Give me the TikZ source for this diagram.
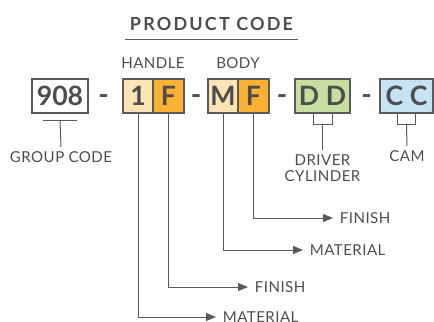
\documentclass[tikz,border=0pt]{standalone}
\usepackage{fontspec}
\setmainfont{Lato}
\usepackage{xcolor}
\usetikzlibrary{arrows.meta,positioning,calc}
\definecolor{ink}{HTML}{4D4D4D}
\definecolor{lineg}{HTML}{5A5A5A}
\definecolor{paleorange}{HTML}{FDE4B6}
\definecolor{deeporange}{HTML}{FBB233}
\definecolor{palegreen}{HTML}{C6DFA1}
\definecolor{paleblue}{HTML}{C6E3F3}
\tikzset{
  codebox/.style={draw=lineg, line width=0.9pt, text=ink, font=\bfseries\fontsize{20}{20}\selectfont, minimum height=25.5pt, inner sep=0pt},
  sep/.style={text=ink, font=\bfseries\fontsize{21}{21}\selectfont, inner sep=0pt},
  lbl/.style={text=ink, font=\fontsize{11.3}{13}\selectfont\addfontfeature{LetterSpace=3}, inner sep=1pt, align=center},
  arrlbl/.style={text=ink, font=\fontsize{11.3}{13}\selectfont\addfontfeature{LetterSpace=3}, inner sep=5pt, anchor=west},
  line/.style={draw=lineg, line width=0.75pt},
  arr/.style={line, -{Triangle[length=7.5pt,width=6pt]}}
}
\begin{document}
\begin{tikzpicture}[x=0.75pt, y=-0.75pt]
  \useasboundingbox (0,0) rectangle (434,321);
  \clip (0,0) rectangle (434,321);
  % title
  \node[text=ink, font=\bfseries\fontsize{13.5}{15}\selectfont\addfontfeature{LetterSpace=12}] (title) at (211.5,24) {PRODUCT CODE};
  \coordinate (ul) at (0,40);
  \draw[line] (title.west |- ul) -- (title.east |- ul);
  % code boxes
  \node[codebox, minimum width=42pt] (group) at (60,96) {908};
  \node[sep] (dash1) at (103.5,100) {-};
  \node[codebox, fill=paleorange, minimum width=22.5pt] (hmat) at (138,96) {1};
  \node[codebox, fill=deeporange, minimum width=23.25pt] (hfin) at (168.5,96) {F};
  \node[sep] (dash2) at (196,100) {-};
  \node[codebox, fill=paleorange, minimum width=22.5pt] (bmat) at (223,96) {M};
  \node[codebox, fill=deeporange, minimum width=23.25pt] (bfin) at (253.5,96) {F};
  \node[sep] (dash3) at (282,100) {-};
  \node[codebox, fill=palegreen, minimum width=41.25pt] (driver) at (322.5,96) {D\kern5pt D};
  \node[sep] (dash4) at (366.5,100) {-};
  \node[codebox, fill=paleblue, minimum width=39.75pt] (cam) at (406.5,96) {C\kern5pt C};
  % group labels
  \node[lbl] (handle) at (153,63) {HANDLE};
  \node[lbl] (body) at (238,63) {BODY};
  \node[lbl, inner sep=3pt] (grouplbl) at (61,157) {GROUP CODE};
  \node[lbl, inner sep=3pt] (driverlbl) at (322.5,168) {DRIVER\\[-1pt]CYLINDER};
  \node[lbl, inner sep=3pt] (camlbl) at (407,156) {CAM};
  % brackets
  \draw[line] ($(group.south)+(-17,7)$) -- ++(34,0);
  \draw[line] ($(group.south)+(0,7)$) -- (grouplbl.north);
  \draw[line] ($(driver.south)+(-9.5,0)$) -- ++(0,11) -- ++(19,0) -- ++(0,-11);
  \draw[line] ($(driver.south)+(0,11)$) -- (driverlbl.north);
  \draw[line] ($(cam.south)+(-9,0)$) -- ++(0,11) -- ++(18,0) -- ++(0,-11);
  \draw[line] ($(cam.south)+(0,11)$) -- (camlbl.north);
  % arrow labels
  \node[arrlbl] (bfinlbl) at (333,218) {FINISH};
  \node[arrlbl] (bmatlbl) at (303,250) {MATERIAL};
  \node[arrlbl] (hfinlbl) at (248,287) {FINISH};
  \node[arrlbl] (hmatlbl) at (216,317) {MATERIAL};
  \draw[arr] (bfin.south) |- (bfinlbl.west);
  \draw[arr] (bmat.south) |- (bmatlbl.west);
  \draw[arr] (hfin.south) |- (hfinlbl.west);
  \draw[arr] (hmat.south) |- (hmatlbl.west);
\end{tikzpicture}
\end{document}
